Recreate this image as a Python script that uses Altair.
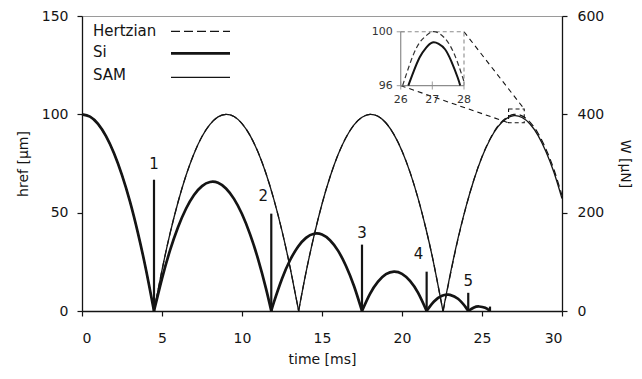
import altair as alt
import pandas as pd

# ---------------- data ----------------
x_ticks = [0, 5, 10, 15, 20, 25, 30]
h_ticks = [0, 50, 100, 150]
w_ticks = [0, 200, 400, 600]

# Si (thick line), arcs between impacts
si_time = [0, 0.5, 1, 1.5, 2, 2.5, 3, 3.5, 4, 4.5,
           4.5, 5, 5.5, 6, 6.5, 7, 7.5, 8, 8.5, 9, 9.5, 10, 10.5, 11, 11.5, 11.83,
           11.83, 12, 12.5, 13, 13.5, 14, 14.5, 15, 15.5, 16, 16.5, 17, 17.5,
           17.5, 18, 18.5, 19, 19.5, 20, 20.5, 21, 21.54,
           21.54, 22, 22.5, 22.84, 23, 23.5, 24, 24.14,
           24.14, 24.5, 24.82, 25.2, 25.5]
si_height = [100, 98.8, 95.1, 88.9, 80.2, 69.1, 55.6, 39.5, 21.0, 0,
             0, 16.5, 30.8, 42.6, 52.0, 59.0, 63.5, 65.6, 65.2, 62.3, 57.0, 49.3, 39.1, 26.5, 11.4, 0,
             0, 4.6, 16.4, 25.8, 32.7, 37.2, 39.3, 38.9, 36.0, 30.7, 22.9, 12.7, 0,
             0, 8.7, 14.9, 18.7, 20.0, 18.9, 15.3, 9.3, 0,
             0, 4.8, 7.7, 8.3, 8.2, 6.2, 1.7, 0,
             0, 1.8, 2.3, 1.6, 0]
si_arc = [0] * 10 + [1] * 16 + [2] * 13 + [3] * 9 + [4] * 8 + [5] * 5

# SAM (thin line)
sam_time = [0, 0.5, 1, 1.5, 2, 2.5, 3, 3.5, 4, 4.5,
            4.5, 5, 5.5, 6, 6.5, 7, 7.5, 8, 8.5, 9, 9.5, 10, 10.5, 11, 11.5, 12, 12.5, 13, 13.54,
            13.54, 14, 14.5, 15, 15.5, 16, 16.5, 17, 17.5, 18, 18.5, 19, 19.5, 20, 20.5, 21, 21.5, 22, 22.56,
            22.56, 23, 23.5, 24, 24.5, 25, 25.5, 26, 26.5, 27, 27.5, 28, 28.5, 29, 29.5, 30]
sam_height = [100, 98.8, 95.1, 88.9, 80.2, 69.1, 55.6, 39.5, 21.0, 0,
              0, 20.8, 39.3, 55.3, 68.9, 80.0, 88.7, 94.9, 98.7, 100, 98.9, 95.3, 89.3, 80.8, 69.9, 56.5, 40.7, 22.4, 0,
              0, 19.6, 38.2, 54.4, 68.1, 79.4, 88.2, 94.6, 98.5, 100, 99.0, 95.6, 89.7, 81.4, 70.6, 57.4, 41.7, 23.5, 0,
              0, 18.1, 36.9, 53.1, 66.9, 78.3, 87.2, 93.7, 97.7, 99.3, 98.4, 95.1, 89.3, 81.0, 70.4, 57.2]
sam_arc = [0] * 10 + [1] * 19 + [2] * 19 + [3] * 16

# Hertzian (dashed) - coincides with SAM until the last arc
hz_time = sam_time[:48] + [22.58, 23, 23.5, 24, 24.5, 25, 25.5, 26, 26.5, 27, 27.5, 28, 28.5, 29, 29.5, 30]
hz_height = sam_height[:48] + [0, 17.6, 36.5, 52.9, 66.9, 78.4, 87.5, 94.1, 98.2, 100.0, 99.2, 96.0, 90.4, 82.3, 71.8, 58.8]
hz_arc = sam_arc[:48] + [3] * 16

# impact force pulses (right axis, uN)
impulse_time = [4.5, 11.83, 17.5, 21.54, 24.14, 25.5]
impulse_force = [267, 198, 135, 80, 37, 9]
impulse_label = ["1", "2", "3", "4", "5", ""]

# inset (zoom of the third SAM / Hertzian apex)
inset_sam_t = [26.24, 26.4, 26.6, 26.8, 27.0, 27.2, 27.4, 27.6, 27.8, 27.88]
inset_sam_h = [96.0, 97.0, 98.1, 98.8, 99.2, 99.1, 98.7, 97.8, 96.6, 96.0]
inset_hz_t = [26.06, 26.2, 26.4, 26.6, 26.8, 27.0, 27.2, 27.4, 27.6, 27.8, 28.0]
inset_hz_h = [96.0, 97.0, 98.3, 99.2, 99.7, 100.0, 99.9, 99.5, 98.8, 97.7, 96.3]
inset_x_ticks = [26, 27, 28]
inset_y_ticks = [96, 100]

# where the inset sits (in main-plot data units) and the zoom box it magnifies
inset_t_span = [19.92, 23.875]
inset_h_span = [114.6, 142.0]
zoom_t = [26.66, 27.64]
zoom_h = [95.7, 102.7]

legend_names = ["Hertzian", "Si", "SAM"]

# ---------------- layout / style ----------------
W, H = 480, 295
T_DOM, H_DOM, W_DOM = [0, 30], [0, 150], [0, 600]
FONT = "DejaVu Sans"
INK = "#141414"
GREY = "#8c8c8c"


def px(t):
    return t / T_DOM[1] * W


def py(h):
    return H - h / H_DOM[1] * H


x_scale = alt.Scale(domain=T_DOM, nice=False, zero=False)
h_scale = alt.Scale(domain=H_DOM, nice=False)
w_scale = alt.Scale(domain=W_DOM, nice=False)
ix_scale = alt.Scale(domain=[26, 28], range=[px(inset_t_span[0]), px(inset_t_span[1])], nice=False, zero=False)
iy_scale = alt.Scale(domain=[96, 100], range=[py(inset_h_span[0]), py(inset_h_span[1])], nice=False, zero=False)

x_axis = alt.Axis(values=x_ticks, title="time [ms]", labelPadding=15, titlePadding=7, format="d")
y_axis = alt.Axis(values=h_ticks, title="href [μm]", orient="left", labelPadding=9, titlePadding=11)
w_axis = alt.Axis(values=w_ticks, title="W [μN]", orient="right", labelPadding=10, titlePadding=14, titleAngle=90)

CURVE = "natural"


def series(t, h, arc):
    return pd.DataFrame({"t": t, "h": h, "arc": arc})


hz_line = alt.Chart(series(hz_time, hz_height, hz_arc)).mark_line(
    interpolate=CURVE, color=INK, strokeWidth=1.2, strokeDash=[7, 4]
).encode(x=alt.X("t:Q", scale=x_scale, axis=x_axis), y=alt.Y("h:Q", scale=h_scale, axis=y_axis), detail="arc:N")

sam_line = alt.Chart(series(sam_time, sam_height, sam_arc)).mark_line(
    interpolate=CURVE, color=INK, strokeWidth=1.3
).encode(x=alt.X("t:Q", scale=x_scale, axis=None), y=alt.Y("h:Q", scale=h_scale, axis=None), detail="arc:N")

si_line = alt.Chart(series(si_time, si_height, si_arc)).mark_line(
    interpolate=CURVE, color=INK, strokeWidth=2.7
).encode(x=alt.X("t:Q", scale=x_scale, axis=None), y=alt.Y("h:Q", scale=h_scale, axis=None), detail="arc:N")

zoom_box = alt.Chart(pd.DataFrame({"t0": [zoom_t[0]], "t1": [zoom_t[1]], "h0": [zoom_h[0]], "h1": [zoom_h[1]]})).mark_rect(
    fillOpacity=0, stroke=INK, strokeWidth=1.1, strokeDash=[4, 3]
).encode(x=alt.X("t0:Q", scale=x_scale, axis=None), x2="t1:Q",
         y=alt.Y("h0:Q", scale=h_scale, axis=None), y2="h1:Q")

connectors = alt.Chart(pd.DataFrame({
    "ta": [inset_t_span[1], inset_t_span[0]], "ha": [inset_h_span[1], inset_h_span[0]],
    "tb": [zoom_t[1], zoom_t[0]], "hb": [zoom_h[1], zoom_h[0]],
})).mark_rule(color=INK, strokeWidth=1.1, strokeDash=[5, 4]).encode(
    x=alt.X("ta:Q", scale=x_scale, axis=None), x2="tb:Q",
    y=alt.Y("ha:Q", scale=h_scale, axis=None), y2="hb:Q")

# legend (text left, line sample right)
legend_rows = [(19.7, 15.3, [9, 4], 1.3), (40.7, 37.3, [1, 0], 2.7), (63.7, 61.3, [1, 0], 1.3)]
legend_layers = []
for name, (ty, ly, dash, sw) in zip(legend_names, legend_rows):
    d = pd.DataFrame({"name": [name]})
    legend_layers.append(alt.Chart(d).mark_text(
        align="left", baseline="alphabetic", font=FONT, fontSize=15, color=INK
    ).encode(x=alt.value(11), y=alt.value(ty), text="name:N"))
    legend_layers.append(alt.Chart(d).mark_rule(color=INK, strokeWidth=sw, strokeDash=dash).encode(
        x=alt.value(89), x2=alt.value(148), y=alt.value(ly)))

# impulses on the right axis
imp = pd.DataFrame({"t": impulse_time, "W": impulse_force, "lab": impulse_label})
bars = alt.Chart(imp).mark_rule(color=INK, strokeWidth=2.2).encode(
    x=alt.X("t:Q", scale=x_scale, axis=None), y=alt.Y("W:Q", scale=w_scale, axis=w_axis), y2=alt.datum(0))


def labels(which, dx, dy):
    return alt.Chart(imp).transform_filter(alt.FieldOneOfPredicate(field="lab", oneOf=which)).mark_text(
        font=FONT, fontSize=15, color=INK, baseline="alphabetic", align="center", dx=dx, dy=dy
    ).encode(x=alt.X("t:Q", scale=x_scale, axis=None), y=alt.Y("W:Q", scale=w_scale, axis=None), text="lab:N")


# inset
frame = pd.DataFrame({"xa": [26, 26], "ya": [96, 96], "xb": [26, 28], "yb": [100, 96]})
frame_dash = pd.DataFrame({"xa": [26, 28], "ya": [100, 96], "xb": [28, 28], "yb": [100, 100]})
frame_solid = alt.Chart(frame).mark_rule(color=GREY, strokeWidth=1.2).encode(
    x=alt.X("xa:Q", scale=ix_scale, axis=None), x2="xb:Q", y=alt.Y("ya:Q", scale=iy_scale, axis=None), y2="yb:Q")
frame_dashed = alt.Chart(frame_dash).mark_rule(color=GREY, strokeWidth=1.1, strokeDash=[4, 3]).encode(
    x=alt.X("xa:Q", scale=ix_scale, axis=None), x2="xb:Q", y=alt.Y("ya:Q", scale=iy_scale, axis=None), y2="yb:Q")

ytk = pd.DataFrame({"v": inset_y_ticks, "x": [26] * len(inset_y_ticks)})
xtk = pd.DataFrame({"v": inset_x_ticks, "y": [96] * len(inset_x_ticks)})
ytick_marks = alt.Chart(ytk).mark_tick(orient="horizontal", color=GREY, size=8, thickness=1.2).encode(
    x=alt.X("x:Q", scale=ix_scale, axis=None), y=alt.Y("v:Q", scale=iy_scale, axis=None))
xtick_marks = alt.Chart(xtk).mark_tick(orient="vertical", color=GREY, size=8, thickness=1.2).encode(
    x=alt.X("v:Q", scale=ix_scale, axis=None), y=alt.Y("y:Q", scale=iy_scale, axis=None))
ytick_text = alt.Chart(ytk).mark_text(font=FONT, fontSize=11, color="#333", align="right", baseline="middle", dx=-8).encode(
    x=alt.X("x:Q", scale=ix_scale, axis=None), y=alt.Y("v:Q", scale=iy_scale, axis=None), text="v:Q")
xtick_text = alt.Chart(xtk).mark_text(font=FONT, fontSize=11, color="#333", align="center", baseline="middle", dy=14).encode(
    x=alt.X("v:Q", scale=ix_scale, axis=None), y=alt.Y("y:Q", scale=iy_scale, axis=None), text="v:Q")

inset_hz = alt.Chart(pd.DataFrame({"t": inset_hz_t, "h": inset_hz_h})).mark_line(
    interpolate=CURVE, color="#333", strokeWidth=1.2, strokeDash=[5, 3]).encode(
    x=alt.X("t:Q", scale=ix_scale, axis=None), y=alt.Y("h:Q", scale=iy_scale, axis=None))
inset_sam = alt.Chart(pd.DataFrame({"t": inset_sam_t, "h": inset_sam_h})).mark_line(
    interpolate=CURVE, color=INK, strokeWidth=2.0).encode(
    x=alt.X("t:Q", scale=ix_scale, axis=None), y=alt.Y("h:Q", scale=iy_scale, axis=None))

chart = alt.layer(
    hz_line, sam_line, si_line, zoom_box, connectors, *legend_layers,
    bars, labels(["1"], 0, -11), labels(["2", "4"], -8, -13), labels(["3", "5"], 0, -7),
    frame_solid, frame_dashed, ytick_marks, xtick_marks, ytick_text, xtick_text, inset_hz, inset_sam,
).resolve_scale(
    x="independent", y="independent"
).properties(
    width=W, height=H,
    padding={"left": 74, "top": 8, "right": 72, "bottom": 60},
    autosize=alt.AutoSizeParams(type="none"),
).configure_view(
    stroke="#9a9a9a", strokeWidth=1
).configure_axis(
    grid=False, domainColor=INK, domainWidth=1.3, tickColor=INK, tickWidth=1.2, tickSize=5,
    labelFont=FONT, labelFontSize=14, labelColor=INK,
    titleFont=FONT, titleFontSize=14, titleFontWeight="normal", titleColor=INK,
)

chart.save("out.html", embed_options={"renderer": "svg", "actions": False})
